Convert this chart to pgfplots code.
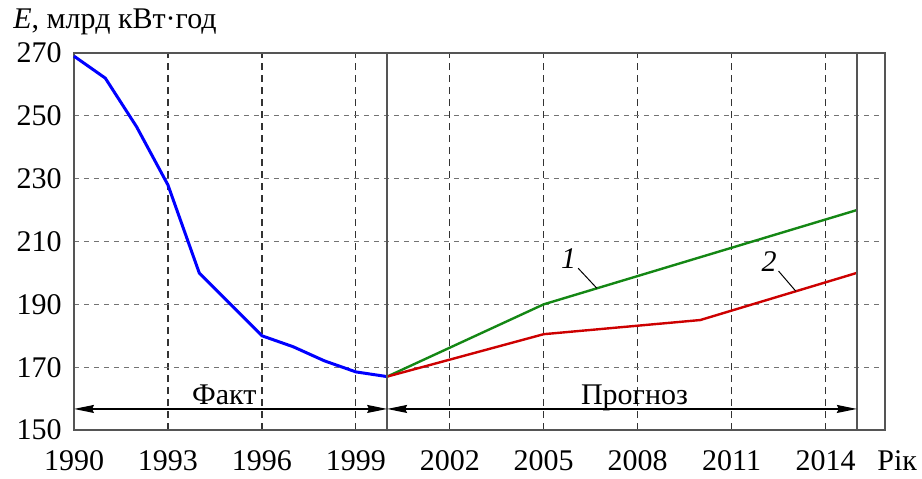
\documentclass[border=0pt]{standalone}
\usepackage{pgfplots}
\pgfplotsset{compat=1.18}
\usepackage{fontspec}
\setmainfont{Liberation Serif}
\usetikzlibrary{arrows.meta}

\definecolor{factblue}{RGB}{0,0,255}
\definecolor{forecastgreen}{RGB}{20,135,20}
\definecolor{forecastred}{RGB}{205,0,0}
\definecolor{framegray}{RGB}{85,85,85}

\begin{document}
\fontsize{15}{17}\selectfont
\begin{tikzpicture}
\begin{axis}[
  at={(0,0)}, anchor=south west,
  scale only axis,
  width=405.5pt, height=188.5pt,
  xmin=1990, xmax=2015.9,
  ymin=150, ymax=270,
  xtick={1990,1993,...,2014},
  ytick={150,170,...,270},
  /pgf/number format/1000 sep={},
  /pgf/number format/assume math mode=true,
  major tick length=0pt,
  axis line style={framegray, line width=0.8pt},
  grid=major,
  x grid style={black!80, line width=0.65pt, dash pattern=on 3.5pt off 2.5pt},
  y grid style={black!55, line width=0.65pt, dash pattern=on 2.5pt off 2.5pt},
  xticklabel style={anchor=base, yshift=-20pt},
  yticklabel style={anchor=east, xshift=-1pt},
  clip=false,
]
% measured consumption
\addplot[factblue, line width=1.5pt] coordinates {
  (1990,269) (1991,262) (1992,246.5) (1993,228) (1994,200) (1995,190)
  (1996,180) (1997,176.5) (1998,172) (1999,168.5) (2000,167)
};
% forecast, variant 1
\addplot[forecastgreen, line width=1.2pt] coordinates {
  (2000,167) (2005,190) (2015,220)
};
% forecast, variant 2
\addplot[forecastred, line width=1.2pt] coordinates {
  (2000,167) (2005,180.5) (2010,185) (2015,200)
};

% boundaries of the periods
\draw[framegray, line width=0.8pt] (axis cs:2000,150) -- (axis cs:2000,270);
\draw[framegray, line width=0.8pt] (axis cs:2015,150) -- (axis cs:2015,270);

% period arrows
\draw[black, line width=0.6pt, {Stealth[length=10pt,width=4pt,inset=1pt]}-{Stealth[length=10pt,width=4pt,inset=1pt]}]
  (axis cs:1990,156.7) -- (axis cs:2000,156.7);
\draw[black, line width=0.6pt, {Stealth[length=10pt,width=4pt,inset=1pt]}-{Stealth[length=10pt,width=4pt,inset=1pt]}]
  (axis cs:2000,156.7) -- (axis cs:2015,156.7);
\node[anchor=base, inner sep=0] at (axis cs:1994.8,158) {Факт};
\node[anchor=base, inner sep=0] at (axis cs:2007.9,158) {Прогноз};

% curve labels with leaders
\node[inner sep=0] at (axis cs:2005.8,204.5) {\textit{1}};
\draw[black, line width=0.5pt] (axis cs:2006.1,201.5) -- (axis cs:2006.7,195.1);
\node[inner sep=0] at (axis cs:2012.2,203.5) {\textit{2}};
\draw[black, line width=0.5pt] (axis cs:2012.5,200.6) -- (axis cs:2013.05,194.2);

% axis titles
\node[anchor=base west, inner sep=0, xshift=-30.5pt, yshift=12.5pt] at (rel axis cs:0,1) {\textit{E}, млрд кВт·год};
\node[anchor=base west, inner sep=0, xshift=-4pt, yshift=-20pt] at (rel axis cs:1,0) {Рік};
\end{axis}
\pgfresetboundingbox
\path (-37pt,-24pt) rectangle (424pt,215pt);
\end{tikzpicture}
\end{document}
